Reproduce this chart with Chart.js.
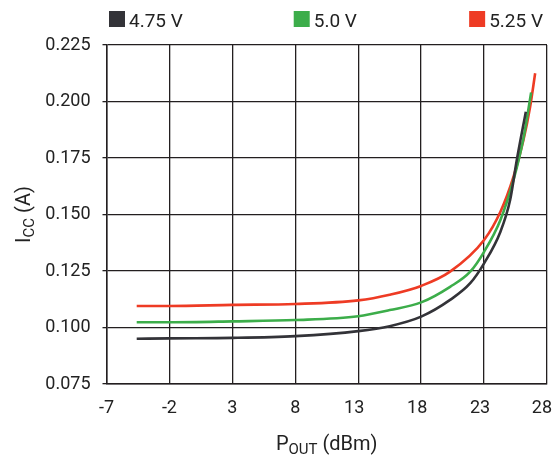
<!DOCTYPE html>
<html><head><meta charset="utf-8">
<script src="https://cdn.jsdelivr.net/npm/chart.js@4"></script>
<style>html,body{margin:0;padding:0;background:#fff}canvas{display:block}</style>
</head><body>
<canvas id="c" width="553" height="457"></canvas>
<script>
const seriesLabels = ['4.75 V', '5.0 V', '5.25 V'];
const seriesColors = ['#333338', '#3cad4a', '#ee3b24'];

const pout475 = [-4.6, -2, 3, 8, 13, 15.5, 18, 20.3, 21.9, 23, 24.3, 25.07, 25.6, 26.32];
const icc475  = [0.0950, 0.0952, 0.0954, 0.0962, 0.0984, 0.1006, 0.1048, 0.1122, 0.1196, 0.1284, 0.1424, 0.1564, 0.1741, 0.1955];

const pout500 = [-4.6, -2, 3, 8, 13, 15.5, 18, 20.3, 21.9, 23, 24.3, 25.34, 26.13, 26.74];
const icc500  = [0.1023, 0.1023, 0.1027, 0.1033, 0.1050, 0.1077, 0.1111, 0.1180, 0.1247, 0.1335, 0.1476, 0.1653, 0.1837, 0.2040];

const pout525 = [-4.6, -2, 3, 8, 13, 15.5, 18, 20.3, 23, 24.3, 25.34, 26.13, 26.66, 27.06];
const icc525  = [0.1095, 0.1095, 0.1100, 0.1104, 0.1120, 0.1145, 0.1184, 0.1247, 0.1387, 0.1512, 0.1667, 0.1830, 0.1977, 0.2125];

const xTicks = [-7, -2, 3, 8, 13, 18, 23, 28];
const yTicks = [0.075, 0.100, 0.125, 0.150, 0.175, 0.200, 0.225];

const FONT = "'Liberation Sans Narrow', 'Arial Narrow', 'Roboto', sans-serif";
const GRID = '#231f20';

const xs = [pout475, pout500, pout525];
const ys = [icc475, icc500, icc525];

const datasets = seriesLabels.map((lab, k) => ({
  label: lab,
  data: xs[k].map((x, i) => ({x: x, y: ys[k][i]})),
  borderColor: seriesColors[k],
  backgroundColor: seriesColors[k],
  borderWidth: 2.6,
  pointRadius: 0,
  fill: false,
  cubicInterpolationMode: 'monotone'
}));

const decorPlugin = {
  id: 'decor',
  afterDraw(chart) {
    const ctx = chart.ctx, a = chart.chartArea;
    ctx.save();
    // legend
    ctx.font = '19px ' + FONT;
    ctx.textBaseline = 'alphabetic';
    const widths = seriesLabels.map(l => 20 + ctx.measureText(l).width);
    const startL = a.left + 2.5;
    const startR = a.right - 4 - widths[2];
    const starts = [startL, a.left + 0.425 * (a.right - a.left), startR];
    seriesLabels.forEach((l, i) => {
      ctx.fillStyle = seriesColors[i];
      ctx.fillRect(starts[i], 11, 16, 16);
      ctx.fillStyle = '#222';
      ctx.textAlign = 'left';
      ctx.fillText(l, starts[i] + 20, 27);
    });
    // x tick labels (two-digit labels sit slightly left, as in the source)
    const xs = chart.scales.x;
    ctx.font = '18px ' + FONT;
    ctx.textAlign = 'center';
    ctx.textBaseline = 'middle';
    ctx.fillStyle = '#222';
    xTicks.forEach(v => {
      const s = String(v);
      const shift = s.replace('-', '').length > 1 ? 4 : 0;
      let px = xs.getPixelForValue(v) - shift;
      const hw = ctx.measureText(s).width / 2;
      px = Math.min(px, chart.width - 1 - hw);
      ctx.fillText(s, px, a.bottom + 24);
    });
    // axis titles with subscripts
    ctx.textBaseline = 'alphabetic';
    ctx.textAlign = 'left';
    const big = '20px ' + FONT, small = '15px ' + FONT;
    const parts = (main, sub, rest) => {
      ctx.font = big; const w1 = ctx.measureText(main).width;
      ctx.font = small; const w2 = ctx.measureText(sub).width;
      ctx.font = big; const w3 = ctx.measureText(rest).width;
      return [w1, w2, w3];
    };
    let [w1, w2, w3] = parts('P', 'OUT', ' (dBm)');
    let x0 = (a.left + a.right) / 2 - (w1 + w2 + w3) / 2;
    const by = 450;
    ctx.font = big; ctx.fillText('P', x0, by);
    ctx.font = small; ctx.fillText('OUT', x0 + w1, by + 3.5);
    ctx.font = big; ctx.fillText(' (dBm)', x0 + w1 + w2, by);
    [w1, w2, w3] = parts('I', 'CC', ' (A)');
    ctx.translate(30, (a.top + a.bottom) / 2);
    ctx.rotate(-Math.PI / 2);
    x0 = -(w1 + w2 + w3) / 2;
    ctx.font = big; ctx.fillText('I', x0, 0);
    ctx.font = small; ctx.fillText('CC', x0 + w1, 3.5);
    ctx.font = big; ctx.fillText(' (A)', x0 + w1 + w2, 0);
    ctx.restore();
  }
};

new Chart(document.getElementById('c'), {
  type: 'line',
  data: { datasets: datasets },
  plugins: [decorPlugin],
  options: {
    responsive: false,
    animation: false,
    layout: { padding: { top: 45, right: 6, left: 0, bottom: 0 } },
    plugins: { legend: { display: false }, tooltip: { enabled: false } },
    scales: {
      x: {
        type: 'linear',
        min: -7, max: 28,
        afterBuildTicks: s => { s.ticks = xTicks.map(v => ({value: v})); },
        afterFit: s => { s.height = 73; s.paddingLeft = 0; s.paddingRight = 0; },
        grid: { color: GRID, lineWidth: 1.3, drawTicks: false },
        border: { color: GRID, width: 1.5 },
        ticks: { display: false }
      },
      y: {
        type: 'linear',
        min: 0.075, max: 0.225,
        afterBuildTicks: s => { s.ticks = yTicks.map(v => ({value: v})); },
        afterFit: s => { s.width = 106.5; s.paddingTop = 0; s.paddingBottom = 0; },
        grid: { color: GRID, lineWidth: 1.3, drawTicks: true, tickLength: 4 },
        border: { color: GRID, width: 1.5 },
        ticks: { color: '#222', font: { family: FONT, size: 18 }, padding: 12, callback: v => Number(v).toFixed(3) }
      }
    }
  }
});
</script>
</body></html>
